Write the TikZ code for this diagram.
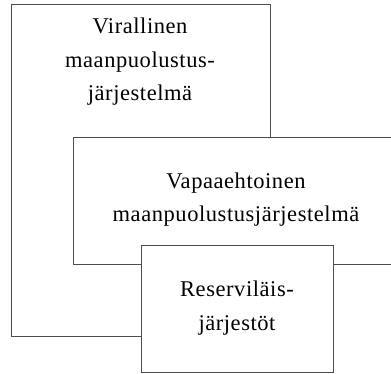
\documentclass[tikz,border=0pt]{standalone}
\usepackage{fontspec}
\setmainfont{Liberation Serif}[LetterSpace=2.5]
\begin{document}
\begin{tikzpicture}[x=1pt,y=-1pt,
  boxstyle/.style={draw=black!70,line width=0.9pt,fill=white},
  txt/.style={align=center,font=\fontsize{22.5}{33.5}\selectfont,inner sep=0pt,anchor=base}]
\useasboundingbox (0,0) rectangle (391,374);
\clip (0,0) rectangle (391,374);
\draw[boxstyle] (11.7,4.7) rectangle (270,336.8);
\node[txt] (t1) at (140,101) {Virallinen\\maanpuolustus-\\järjestelmä};
\draw[boxstyle] (73,137) rectangle (395,264.5);
\node[txt] (t2) at (236,222) {Vapaaehtoinen\\maanpuolustusjärjestelmä};
\draw[boxstyle] (141,245) rectangle (333,372.3);
\node[txt] (t3) at (237,330) {Reserviläis-\\järjestöt};
\end{tikzpicture}
\end{document}
